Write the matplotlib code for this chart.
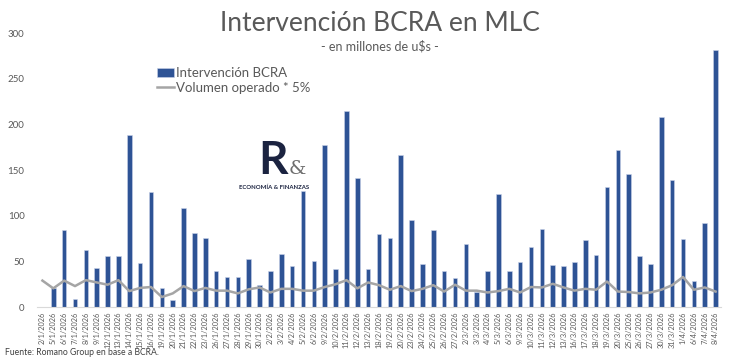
import matplotlib.pyplot as plt
import numpy as np

plt.rcParams['font.family'] = ['Lato', 'DejaVu Sans']

fechas = ["2/1", "5/1", "6/1", "7/1", "8/1", "9/1", "12/1", "13/1", "14/1", "15/1",
          "16/1", "19/1", "20/1", "21/1", "22/1", "23/1", "26/1", "27/1", "28/1", "29/1",
          "30/1", "2/2", "3/2", "4/2", "5/2", "6/2", "9/2", "10/2", "11/2", "12/2",
          "13/2", "18/2", "19/2", "20/2", "23/2", "24/2", "25/2", "26/2", "27/2", "2/3",
          "3/3", "4/3", "5/3", "6/3", "9/3", "10/3", "11/3", "12/3", "13/3", "16/3",
          "17/3", "18/3", "19/3", "20/3", "25/3", "26/3", "27/3", "30/3", "31/3", "1/4",
          "6/4", "7/4", "8/4"]
etiquetas = [f + "/2026" for f in fechas]

intervencion = [0, 21, 84, 9, 62, 43, 56, 56, 188, 48,
                126, 21, 8, 108, 81, 76, 39, 33, 33, 53,
                24, 40, 58, 45, 127, 51, 177, 42, 215, 141,
                42, 80, 76, 167, 95, 47, 84, 40, 32, 69,
                17, 39, 124, 39, 49, 66, 86, 46, 45, 49,
                73, 57, 131, 172, 146, 56, 47, 208, 139, 75,
                29, 92, 281]

volumen = [29, 20.5, 29, 23, 29.5, 27, 24.5, 29.5, 17.5, 21,
           22, 11, 15, 23, 17.5, 21, 18, 18, 15, 19.5,
           21.5, 16, 20, 20, 18, 18, 22, 25, 29.5, 20.5,
           27, 24, 19, 23, 17.5, 20, 24, 17, 24.5, 18,
           18, 16, 17.5, 20, 16, 22, 21.5, 25.5, 21.5, 18,
           20, 19, 28, 17, 16.5, 15, 16, 19, 24, 33,
           19, 21.5, 17]

azul = "#2E5395"
gris = "#A5A5A5"
texto = "#595959"

fig = plt.figure(figsize=(7.3, 3.63), dpi=100)
ax = fig.add_axes([0.0507, 0.154, 0.937, 0.755])

x = np.arange(len(fechas))
barras = ax.bar(x, intervencion, width=0.42, color=azul, edgecolor="#C9D3E8",
                linewidth=0.4, label="Intervención BCRA", zorder=2)
linea, = ax.plot(x, volumen, color=gris, linewidth=1.8,
                 label="Volumen operado * 5%", zorder=3)

ax.set_xlim(-0.5, len(fechas) - 0.5)
ax.set_ylim(0, 300)
ax.set_yticks(range(0, 301, 50))
ax.set_xticks(x)
ax.set_xticklabels(etiquetas, rotation=90, fontsize=5.3, color=texto)
ax.tick_params(axis='y', length=0, labelsize=7, labelcolor=texto, pad=9)
ax.tick_params(axis='x', length=0, pad=3)
for s in ["top", "right", "left"]:
    ax.spines[s].set_visible(False)
ax.spines["bottom"].set_color("#D9D9D9")

fig.text(0.52, 0.935, "Intervención BCRA en MLC", ha="center", va="center",
         fontsize=19, color=texto)
fig.text(0.52, 0.872, "- en millones de u$s -", ha="center", va="center",
         fontsize=9, color=texto)

fig.legend(handles=[barras, linea], loc="upper left", bbox_to_anchor=(0.208, 0.83),
           frameon=False, fontsize=9.5, handlelength=1.3, handletextpad=0.15,
           labelspacing=0.2, borderaxespad=0, labelcolor=texto)

# logo
r = fig.text(0.374, 0.556, "R", ha="center", va="center", fontsize=33,
             fontweight="bold", color="#1B2340")
fig.draw_without_rendering()
ax.annotate("&", xy=(1, 0.1), xycoords=r, xytext=(0.5, 0), textcoords="offset points",
            ha="left", va="bottom", fontsize=14, family="DejaVu Serif",
            color="#6E6E6E", annotation_clip=False)
fig.text(0.375, 0.485, "ECONOMÍA & FINANZAS", ha="center", va="center",
         fontsize=4.3, fontweight="bold", color="#1B2340")

fig.text(0.007, 0.028, "Fuente: Romano Group en base a BCRA.", fontsize=6.2,
         color="#404040", va="center")

fig.savefig("out.png", dpi=100)
